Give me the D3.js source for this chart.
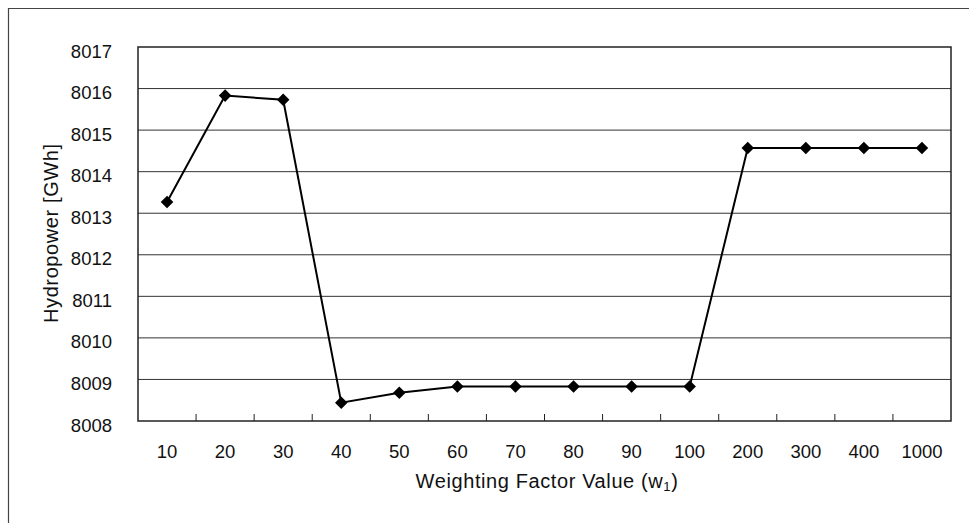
<!DOCTYPE html>
<html><head><meta charset="utf-8">
<script src="https://cdn.jsdelivr.net/npm/d3@7"></script>
<style>html,body{margin:0;padding:0;background:#fff;}svg{display:block;}text{font-family:"Liberation Sans",Arial,sans-serif;fill:#111;}</style>
</head><body>
<svg id="c" width="969" height="523"></svg>
<script>
const categories = ["10","20","30","40","50","60","70","80","90","100","200","300","400","1000"];
const hydropower = [8013.27, 8015.83, 8015.73, 8008.44, 8008.68, 8008.83, 8008.83, 8008.83, 8008.83, 8008.83, 8014.57, 8014.57, 8014.57, 8014.57];
const yTicks = [8008, 8009, 8010, 8011, 8012, 8013, 8014, 8015, 8016, 8017];

const svg = d3.select("#c");
const L = 138, R = 951, T = 47, B = 421;
const FONT = '"Liberation Sans",Arial,sans-serif';

// outer frame (top and left visible)
svg.append("line").attr("x1",8).attr("x2",969).attr("y1",8.5).attr("y2",8.5).attr("stroke","#444").attr("stroke-width",1.2);
svg.append("line").attr("x1",8.5).attr("x2",8.5).attr("y1",8).attr("y2",523).attr("stroke","#444").attr("stroke-width",1.2);

const x = d3.scaleBand().domain(categories).range([L, R]);
const y = d3.scaleLinear().domain([8008, 8017]).range([B, T]);

// gridlines
svg.append("g").selectAll("line").data(yTicks.filter(v => v > 8008 && v < 8017)).join("line")
  .attr("x1", L).attr("x2", R).attr("y1", d => y(d)).attr("y2", d => y(d))
  .attr("stroke", "#333").attr("stroke-width", 1);

// plot border
svg.append("rect").attr("x", L).attr("y", T).attr("width", R - L).attr("height", B - T)
  .attr("fill", "none").attr("stroke", "#222").attr("stroke-width", 1.5);

// y axis labels
const yAxis = d3.axisLeft(y).tickValues(yTicks).tickSize(0).tickPadding(26).tickFormat(d3.format("d"));
const gy = svg.append("g").attr("transform", `translate(${L},0)`).call(yAxis);
gy.select(".domain").remove();
gy.selectAll("text").attr("font-size", 18.5).attr("dy", "0").attr("y", 10)
  .style("font-family", FONT).attr("fill", "#111");

// x axis: inward ticks at band boundaries
const bounds = categories.slice(1).map(c => x(c));
svg.append("g").selectAll("line").data(bounds).join("line")
  .attr("x1", d => d).attr("x2", d => d).attr("y1", B).attr("y2", B - 7)
  .attr("stroke", "#222").attr("stroke-width", 1);
const xAxis = d3.axisBottom(x).tickSize(0);
const gx = svg.append("g").attr("transform", `translate(0,${B})`).call(xAxis);
gx.select(".domain").remove();
gx.selectAll("text").attr("font-size", 18.5).attr("dy", "0").attr("y", 37)
  .style("font-family", FONT).attr("fill", "#111");

// line
const line = d3.line().x((d, i) => x(categories[i]) + x.bandwidth() / 2).y(d => y(d));
svg.append("path").datum(hydropower).attr("d", line).attr("fill", "none").attr("stroke", "#000").attr("stroke-width", 2);

// markers
const sym = d3.symbol().type(d3.symbolDiamond2).size(100);
svg.append("g").selectAll("path").data(hydropower).join("path")
  .attr("d", sym)
  .attr("transform", (d, i) => `translate(${x(categories[i]) + x.bandwidth() / 2},${y(d)})`)
  .attr("fill", "#000");

// axis titles
svg.append("text").attr("x", 547).attr("y", 488).attr("text-anchor", "middle").attr("font-size", 20)
  .attr("letter-spacing", 0.6)
  .html('Weighting Factor Value (w<tspan font-size="13" dy="3">1</tspan><tspan dy="-3">)</tspan>');
svg.append("text").attr("transform", "translate(58,323) rotate(-90)").attr("text-anchor", "start").attr("font-size", 20)
  .attr("letter-spacing", 0.6)
  .text("Hydropower [GWh]");
</script>
</body></html>
